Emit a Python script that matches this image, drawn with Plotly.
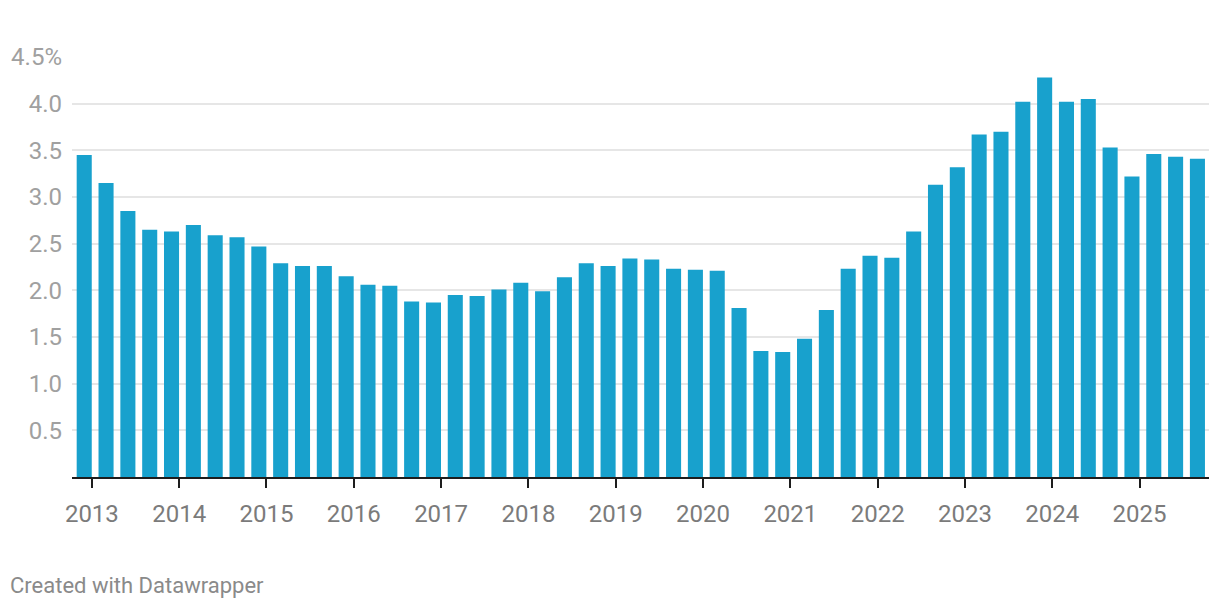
import plotly.graph_objects as go

years = list(range(2013, 2026))
quarters = [f"{y} Q{q}" for y in years for q in range(1, 5)]
values = [
    3.45, 3.15, 2.85, 2.65,
    2.63, 2.70, 2.59, 2.57,
    2.47, 2.29, 2.26, 2.26,
    2.15, 2.06, 2.05, 1.88,
    1.87, 1.95, 1.94, 2.01,
    2.08, 1.99, 2.14, 2.29,
    2.26, 2.34, 2.33, 2.23,
    2.22, 2.21, 1.81, 1.35,
    1.34, 1.48, 1.79, 2.23,
    2.37, 2.35, 2.63, 3.13,
    3.32, 3.67, 3.70, 4.02,
    4.28, 4.02, 4.05, 3.53,
    3.22, 3.46, 3.43, 3.41,
]
y_ticks = [0.5, 1.0, 1.5, 2.0, 2.5, 3.0, 3.5, 4.0, 4.5]
y_tick_text = ["0.5", "1.0", "1.5", "2.0", "2.5", "3.0", "3.5", "4.0", "4.5%"]
year_labels = [str(y) for y in years]

x_idx = list(range(len(values)))
tick_pos = [4 * k + 0.35 for k in range(len(years))]

fig = go.Figure(
    go.Bar(
        x=x_idx,
        y=values,
        marker=dict(color="#18a1cd", line=dict(width=0)),
        hovertext=quarters,
    )
)

fig.update_layout(
    width=1212,
    height=602,
    margin=dict(l=64, r=11, t=49, b=133, autoexpand=False),
    plot_bgcolor="white",
    paper_bgcolor="white",
    bargap=0.31,
    showlegend=False,
    font=dict(family="Roboto", size=24, color="#7b7b7b"),
    xaxis=dict(
        range=[-0.56, 51.53],
        tickmode="array",
        tickvals=tick_pos,
        ticktext=year_labels,
        showline=True,
        linecolor="#1d1d1d",
        linewidth=2,
        ticks="outside",
        ticklen=9,
        tickwidth=2,
        tickcolor="#1d1d1d",
        showgrid=False,
        zeroline=False,
        automargin=False,
        ticklabelstandoff=5,
        tickfont=dict(family="Roboto", size=24, color="#7b7b7b"),
    ),
    yaxis=dict(
        range=[0, 4.5],
        tickmode="array",
        tickvals=y_ticks,
        ticktext=y_tick_text,
        showgrid=True,
        gridcolor="#e6e6e6",
        gridwidth=1.5,
        zeroline=False,
        showline=False,
        ticks="",
        automargin=False,
        ticklabelstandoff=9,
        tickfont=dict(family="Roboto", size=24, color="#a0a0a0"),
    ),
    annotations=[
        dict(
            text="Created with Datawrapper",
            xref="paper", yref="paper",
            x=-64 / 1137, y=-108 / 420,
            xanchor="left", yanchor="middle",
            showarrow=False,
            font=dict(family="Roboto", size=22, color="#8a8a8a"),
        )
    ],
)

fig.write_html("out.html")
